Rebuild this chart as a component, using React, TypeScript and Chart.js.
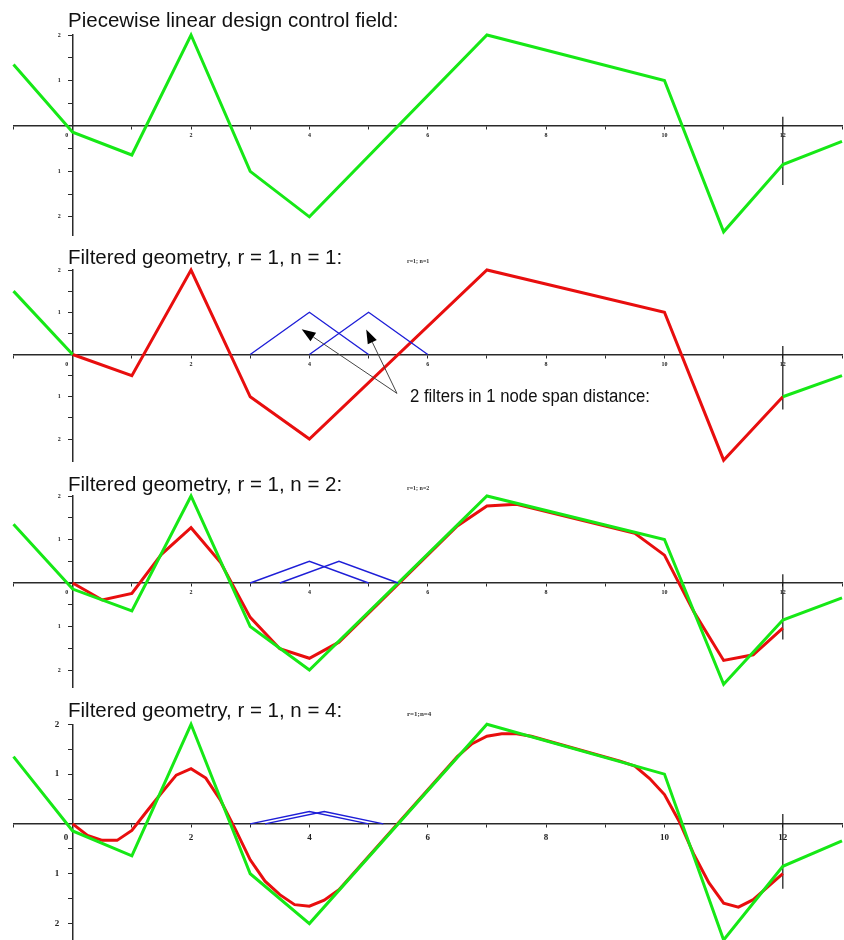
import React, { useEffect, useRef } from "react";
import { Chart, registerables } from "chart.js";

Chart.register(...registerables);

// Design nodes and the piecewise linear design control field
const nodeX = [-1, 0, 1, 2, 3, 4, 7, 10, 11, 12, 13];
const controlField = [1.35, -0.14, -0.64, 2, -1, -2, 2, 1, -2.33, -0.85, -0.34];

// Filtered geometry, r = 1, n = 1
const n1X = [0, 1, 2, 3, 4, 7, 10, 11, 12];
const n1Geometry = [0, -0.5, 2, -1, -2, 2, 1, -2.5, -1];
const n1LeftX = [-1, 0];
const n1Left = [1.5, 0];
const n1RightX = [12, 13];
const n1Right = [-1, -0.5];

// Filtered geometry, r = 1, n = 2
const n2X = [0, 0.5, 1, 1.5, 2, 2.5, 3, 3.5, 4, 4.5, 6.5, 7, 7.5, 9.5, 10, 10.5, 11, 11.5, 12];
const n2Geometry = [0, -0.39, -0.24, 0.66, 1.27, 0.47, -0.79, -1.51, -1.73, -1.36, 1.31, 1.77, 1.81, 1.14, 0.64, -0.67, -1.78, -1.65, -1.04];

// Filtered geometry, r = 1, n = 4
const n4X = [0, 0.25, 0.5, 0.75, 1, 1.25, 1.5, 1.75, 2, 2.25, 2.5, 2.75, 3, 3.25, 3.5, 3.75, 4, 4.25, 4.5, 6.5, 6.75, 7, 7.25, 7.5, 7.75, 9.25, 9.5, 9.75, 10, 10.25, 10.5, 10.75, 11, 11.25, 11.5, 11.75, 12];
const n4Geometry = [0, -0.23, -0.33, -0.33, -0.13, 0.25, 0.62, 0.98, 1.11, 0.92, 0.47, -0.11, -0.72, -1.15, -1.42, -1.62, -1.65, -1.53, -1.32, 1.35, 1.61, 1.76, 1.81, 1.81, 1.76, 1.26, 1.16, 0.91, 0.59, 0.05, -0.62, -1.18, -1.59, -1.67, -1.52, -1.26, -1.0];

// Hat filters (two per panel)
const filterN1AX = [3, 4, 5];
const filterN1BX = [4, 5, 6];
const filterN1Y = [0, 1, 0];
const filterN2AX = [3, 4, 5];
const filterN2BX = [3.5, 4.5, 5.5];
const filterN2Y = [0, 0.5, 0];
const filterN4AX = [3, 4, 5];
const filterN4BX = [3.25, 4.25, 5.25];
const filterN4Y = [0, 0.25, 0];

// Boundary marker at the last node
const markerX = [12, 12];
const markerY = [0.2, -1.3];

// Axis labels
const xTickLabels = [0, 2, 4, 6, 8, 10, 12];
const yTickLabels = [-2, -1, 1, 2];

const titles = [
  "Piecewise linear design control field:",
  "Filtered geometry, r = 1, n = 1:",
  "Filtered geometry, r = 1, n = 2:",
  "Filtered geometry, r = 1, n = 4:",
];
const subtitles = ["", "r=1; n=1", "r=1; n=2", "r=1;n=4"];

const annotationText = "2 filters in 1 node span distance:";
// arrow tail and tips, in data units
const arrowTail = [5.48, -0.92];
const arrowTips = [
  [3.87, 0.6],
  [4.96, 0.59],
];
const annotationAnchor = [5.7, -1.12];

const GREEN = "rgb(22, 232, 22)";
const RED = "rgb(232, 14, 14)";
const BLUE = "rgb(30, 30, 215)";
const AXIS = "#2a2a2a";
const SANS = '"Liberation Sans", Arial, sans-serif';
const SERIF = '"Liberation Serif", "Times New Roman", serif';

const pts = (xs: number[], ys: number[]) => xs.map((x, i) => ({ x, y: ys[i] }));

const lineSet = (xs: number[], ys: number[], color: string, width: number) => ({
  data: pts(xs, ys),
  borderColor: color,
  backgroundColor: color,
  borderWidth: width,
  pointRadius: 0,
  tension: 0,
  fill: false,
  clip: false as const,
});

type Panel = {
  top: number;
  height: number;
  padTop: number;
  padBottom: number;
  yMin: number;
  tickFont: number;
  xLabelPad: number;
  title: string;
  subtitle: string;
  titleBaseline: number;
  datasets: any[];
  annotate?: boolean;
};

const controlSet = () => lineSet(nodeX, controlField, GREEN, 3);
const markerSet = () => lineSet(markerX, markerY, "#111", 1.2);

const panels: Panel[] = [
  {
    top: 0, height: 236, padTop: 35, padBottom: 1, yMin: -2.4, tickFont: 6, xLabelPad: 3,
    title: titles[0], subtitle: subtitles[0], titleBaseline: 27,
    datasets: [controlSet(), markerSet()],
  },
  {
    top: 236, height: 228, padTop: 34, padBottom: 3, yMin: -2.52, tickFont: 6, xLabelPad: 3,
    title: titles[1], subtitle: subtitles[1], titleBaseline: 28,
    datasets: [
      lineSet(filterN1AX, filterN1Y, BLUE, 1.4),
      lineSet(filterN1BX, filterN1Y, BLUE, 1.4),
      lineSet(n1LeftX, n1Left, GREEN, 3),
      lineSet(n1RightX, n1Right, GREEN, 3),
      lineSet(n1X, n1Geometry, RED, 3),
      markerSet(),
    ],
    annotate: true,
  },
  {
    top: 464, height: 226, padTop: 32, padBottom: 2.6, yMin: -2.4, tickFont: 6, xLabelPad: 3,
    title: titles[2], subtitle: subtitles[2], titleBaseline: 27,
    datasets: [
      lineSet(filterN2AX, filterN2Y, BLUE, 1.4),
      lineSet(filterN2BX, filterN2Y, BLUE, 1.4),
      controlSet(),
      lineSet(n2X, n2Geometry, RED, 3),
      markerSet(),
    ],
  },
  {
    top: 690, height: 250, padTop: 34.3, padBottom: 0, yMin: -2.33, tickFont: 9, xLabelPad: 5,
    title: titles[3], subtitle: subtitles[3], titleBaseline: 27,
    datasets: [
      lineSet(filterN4AX, filterN4Y, BLUE, 1.4),
      lineSet(filterN4BX, filterN4Y, BLUE, 1.4),
      controlSet(),
      lineSet(n4X, n4Geometry, RED, 3),
      markerSet(),
    ],
  },
];

function drawArrow(ctx: CanvasRenderingContext2D, x0: number, y0: number, x1: number, y1: number) {
  const ang = Math.atan2(y1 - y0, x1 - x0);
  const headLen = 14;
  const headW = 5;
  const bx = x1 - headLen * Math.cos(ang);
  const by = y1 - headLen * Math.sin(ang);
  ctx.strokeStyle = "#444";
  ctx.lineWidth = 1;
  ctx.beginPath();
  ctx.moveTo(x0, y0);
  ctx.lineTo(bx, by);
  ctx.stroke();
  ctx.fillStyle = "#000";
  ctx.beginPath();
  ctx.moveTo(x1, y1);
  ctx.lineTo(bx + headW * Math.sin(ang), by - headW * Math.cos(ang));
  ctx.lineTo(bx - headW * Math.sin(ang), by + headW * Math.cos(ang));
  ctx.closePath();
  ctx.fill();
}

function overlayPlugin(p: Panel) {
  return {
    id: "panelText",
    afterDraw(chart: any) {
      const ctx: CanvasRenderingContext2D = chart.ctx;
      ctx.save();
      ctx.fillStyle = "#111";
      ctx.textAlign = "left";
      ctx.textBaseline = "alphabetic";
      ctx.font = `20.5px ${SANS}`;
      ctx.fillText(p.title, 68, p.titleBaseline);
      if (p.subtitle) {
        ctx.font = `bold ${p.tickFont === 9 ? 7 : 6}px ${SERIF}`;
        ctx.fillStyle = "#333";
        ctx.fillText(p.subtitle, 407, p.titleBaseline - 1);
      }
      if (p.annotate) {
        const xs = chart.scales.x;
        const ys = chart.scales.y;
        const tx = xs.getPixelForValue(arrowTail[0]);
        const ty = ys.getPixelForValue(arrowTail[1]);
        arrowTips.forEach(([ax, ay]) => {
          drawArrow(ctx, tx, ty, xs.getPixelForValue(ax), ys.getPixelForValue(ay));
        });
        ctx.fillStyle = "#111";
        ctx.font = `18px ${SANS}`;
        ctx.fillText(
          annotationText,
          xs.getPixelForValue(annotationAnchor[0]),
          ys.getPixelForValue(annotationAnchor[1]),
          240
        );
      }
      ctx.restore();
    },
  };
}

// Axes drawn through the origin take no room of their own
const noRoom = (s: any) => {
  if (s.isHorizontal()) s.height = 0;
  else s.width = 0;
  s.paddingTop = 0;
  s.paddingBottom = 0;
  s.paddingLeft = 0;
  s.paddingRight = 0;
};

function PanelChart({ p }: { p: Panel }) {
  const ref = useRef<HTMLCanvasElement | null>(null);
  useEffect(() => {
    if (!ref.current) return;
    const tickFont = { family: SERIF, size: p.tickFont, weight: "bold" as const };
    const zeroPad = p.tickFont === 9 ? "\u2002\u2002\u2002" : "\u2002\u2002\u2002\u2002";
    const yPad = p.tickFont === 9 ? "\u2002\u2002\u2002" : "\u2002\u2002\u2002\u2002";
    const chart = new Chart(ref.current, {
      type: "line",
      data: { datasets: p.datasets },
      options: {
        responsive: false,
        animation: false,
        events: [],
        layout: { padding: { top: p.padTop, bottom: p.padBottom, left: 13.5, right: 2 } },
        plugins: { legend: { display: false }, tooltip: { enabled: false }, title: { display: false } },
        scales: {
          x: {
            type: "linear",
            min: -1,
            max: 13,
            position: { y: 0 } as any,
            afterFit: noRoom,
            border: { display: true, color: AXIS, width: 1.5 },
            grid: { display: true, drawOnChartArea: false, drawTicks: true, tickLength: 3, tickColor: AXIS, tickWidth: 1 },
            ticks: {
              stepSize: 1,
              autoSkip: false,
              maxRotation: 0,
              padding: p.xLabelPad,
              color: "#222",
              font: tickFont,
              callback: (v: any) => (xTickLabels.includes(v) ? (v === 0 ? "0" + zeroPad : String(v)) : ""),
            },
          },
          y: {
            type: "linear",
            min: p.yMin,
            max: 2,
            position: { x: 0 } as any,
            afterFit: noRoom,
            border: { display: true, color: AXIS, width: 1.5 },
            grid: {
              display: true,
              drawOnChartArea: false,
              drawTicks: true,
              tickLength: 4,
              tickWidth: 1,
              tickColor: (c: any) =>
                c.tick && Number.isInteger(Math.round(c.tick.value * 1000) / 500) ? AXIS : "rgba(0,0,0,0)",
            },
            ticks: {
              stepSize: 0.5,
              autoSkip: false,
              color: "#222",
              font: tickFont,
              callback: (v: any) => (yTickLabels.includes(v) ? String(Math.abs(v)) + yPad : ""),
            },
          },
        },
      },
      plugins: [overlayPlugin(p)],
    });
    return () => chart.destroy();
  }, [p]);
  return (
    <canvas
      ref={ref}
      width={844}
      height={p.height}
      style={{ position: "absolute", left: 0, top: p.top, width: 844, height: p.height, display: "block" }}
    />
  );
}

export default function App() {
  return (
    <div style={{ position: "absolute", left: 0, top: 0, width: 844, height: 940, background: "#fff", overflow: "hidden" }}>
      {panels.map((p, i) => (
        <PanelChart key={i} p={p} />
      ))}
    </div>
  );
}
